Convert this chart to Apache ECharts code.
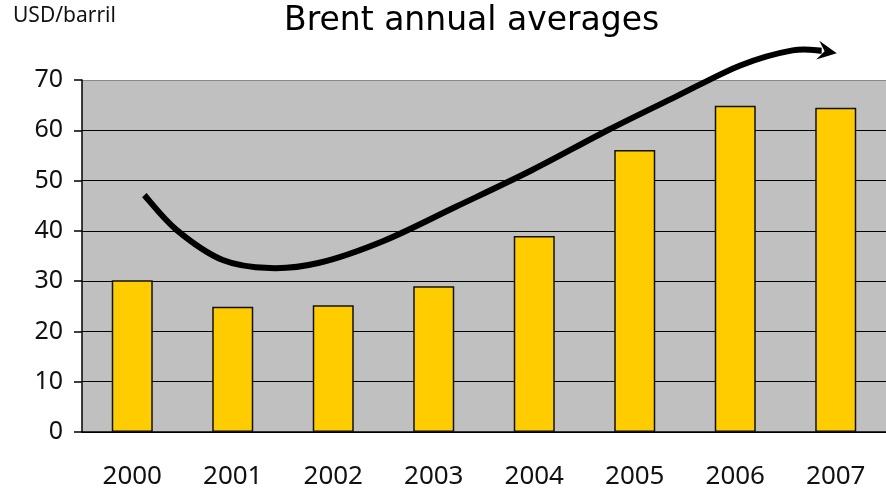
<!DOCTYPE html>
<html>
<head>
<meta charset="utf-8">
<script src="https://cdn.jsdelivr.net/npm/echarts@6/dist/echarts.min.js"></script>
<style>
html,body{margin:0;padding:0;background:#fff;}
#chart{width:886px;height:493px;}
</style>
</head>
<body>
<div id="chart"></div>
<script>
// Data
var years = ['2000','2001','2002','2003','2004','2005','2006','2007'];
var brentAvg = [30.2, 24.9, 25.2, 29.0, 39.0, 56.1, 64.9, 64.5];
var yTicks = [0, 10, 20, 30, 40, 50, 60, 70];
// Hand-drawn trend arrow (category-index units, USD/barril)
var trendX = [0.12, 0.44, 0.90, 1.37, 1.85, 2.50, 3.22, 3.98, 4.74, 5.40, 6.05, 6.57, 6.86];
var trendY = [47.1, 40.2, 34.2, 32.6, 33.6, 38.0, 44.8, 52.1, 60.1, 66.6, 72.9, 75.9, 75.8];
var arrowTip = [7.01, 75.3];

var FONT = 'Noto Sans';
var trendData = trendX.map(function (x, i) { return [x, trendY[i]]; });

function renderTrend(params, api) {
  if (params.dataIndex !== 0) return null;
  var P = trendData.map(function (d) { return api.coord(d); });
  var n = P.length;
  var path = 'M' + P[0][0] + ' ' + P[0][1];
  for (var i = 0; i < n - 1; i++) {
    var p0 = P[Math.max(i - 1, 0)], p1 = P[i], p2 = P[i + 1], p3 = P[Math.min(i + 2, n - 1)];
    var c1x = p1[0] + (p2[0] - p0[0]) / 6, c1y = p1[1] + (p2[1] - p0[1]) / 6;
    var c2x = p2[0] - (p3[0] - p1[0]) / 6, c2y = p2[1] - (p3[1] - p1[1]) / 6;
    path += ' C' + c1x + ' ' + c1y + ' ' + c2x + ' ' + c2y + ' ' + p2[0] + ' ' + p2[1];
  }
  var B = P[n - 1], T = api.coord(arrowTip);
  var dx = T[0] - B[0], dy = T[1] - B[1], L = Math.sqrt(dx * dx + dy * dy);
  dx /= L; dy /= L;
  var nx = -dy, ny = dx, w = 9.5;
  var head = [
    T,
    [B[0] + nx * w - dx * 4, B[1] + ny * w - dy * 4],
    [B[0] + dx * 3, B[1] + dy * 3],
    [B[0] - nx * w - dx * 4, B[1] - ny * w - dy * 4]
  ];
  return {
    type: 'group',
    children: [
      { type: 'path', shape: { pathData: path }, style: { stroke: '#000', lineWidth: 6, fill: null, lineCap: 'butt' } },
      { type: 'polygon', shape: { points: head }, style: { fill: '#000' } }
    ]
  };
}

var chart = echarts.init(document.getElementById('chart'), null, { renderer: 'canvas' });
chart.setOption({
  animation: false,
  title: {
    text: 'Brent annual averages',
    left: 279, top: 0,
    textStyle: { fontFamily: 'DejaVu Sans', fontSize: 33, fontWeight: 'normal', color: '#000' }
  },
  graphic: [{
    type: 'text', left: 13, top: 6,
    style: { text: 'USD/barril', fontFamily: FONT, fontSize: 21, fill: '#111' }
  }],
  grid: {
    left: 82, top: 80, width: 813, height: 352,
    show: true, backgroundColor: '#c0c0c0', borderWidth: 0
  },
  xAxis: [{
    type: 'category', data: years,
    axisLine: { lineStyle: { color: '#000', width: 1.5 } },
    axisTick: { length: 9, lineStyle: { color: '#333', width: 1.5 } },
    axisLabel: { margin: 32, fontFamily: FONT, fontSize: 26, color: '#111' }
  }, {
    type: 'value', min: -0.5, max: 7.5, show: false
  }],
  yAxis: {
    type: 'value', min: 0, max: 70, interval: 10,
    axisLine: { show: true, onZero: false, lineStyle: { color: '#000', width: 1.5 } },
    axisTick: { show: true, length: 8, lineStyle: { color: '#000', width: 1.5 } },
    axisLabel: { margin: 19, fontFamily: FONT, fontSize: 25, color: '#111',
      formatter: function (v) { return yTicks.indexOf(v) >= 0 ? String(v) : ''; } },
    splitLine: { show: true, lineStyle: { color: ['#000','#000','#000','#000','#000','#000','#000','#888'], width: 1.2 } }
  },
  series: [{
    type: 'bar', data: brentAvg, barWidth: 41,
    itemStyle: { color: '#ffcc00', borderColor: '#111', borderWidth: 1.5 }
  }, {
    type: 'custom', xAxisIndex: 1, yAxisIndex: 0,
    data: trendData, renderItem: renderTrend, clip: false,
    silent: true, z: 5
  }]
});
</script>
</body>
</html>
